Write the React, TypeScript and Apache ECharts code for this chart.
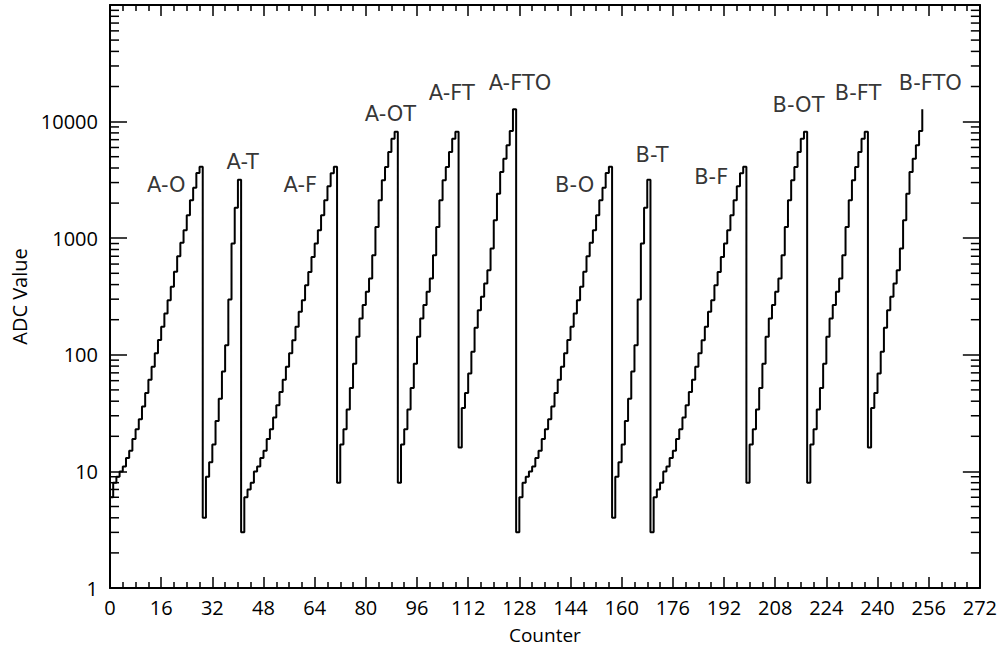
import React, { useEffect, useRef } from "react";
import * as echarts from "echarts";

// ADC readout versus counter: twelve ramps (channel A then channel B),
// each followed by a one-count drop before the next ramp starts.
const aO = [6, 8, 9, 10, 11, 13, 15, 19, 23, 28, 36, 47, 61, 79, 103, 134, 174, 226, 294, 383, 515, 701, 912, 1170, 1573, 2112, 2710, 3620, 4095];
const aODrop = [4];
const aT = [9, 12, 17, 27, 42, 72, 121, 298, 899, 1828, 3177];
const aTDrop = [3];
const aF = [6, 7, 8, 10, 11, 13, 15, 19, 23, 29, 37, 48, 61, 79, 103, 133, 174, 234, 294, 395, 514, 691, 899, 1170, 1573, 2115, 2787, 3600, 4095];
const aFDrop = [8];
const aOT = [17, 23, 34, 52, 84, 143, 205, 267, 347, 451, 714, 1250, 2115, 3140, 4085, 5490, 7140, 8191];
const aOTDrop = [8];
const aFT = [17, 23, 34, 52, 84, 143, 205, 267, 347, 451, 714, 1250, 2115, 3140, 4085, 5490, 7140, 8191];
const aFTDrop = [16];
const aFTO = [35, 47, 69, 106, 171, 241, 314, 408, 531, 814, 1425, 2410, 3700, 4810, 6260, 8300, 12740];
const aFTODrop = [3];

const bO = [6, 8, 9, 10, 11, 13, 15, 19, 23, 28, 36, 47, 61, 79, 103, 134, 174, 226, 294, 383, 515, 701, 912, 1170, 1573, 2112, 2710, 3620, 4095];
const bODrop = [4];
const bT = [9, 12, 17, 27, 42, 72, 121, 298, 899, 1828, 3177];
const bTDrop = [3];
const bF = [6, 7, 8, 10, 11, 13, 15, 19, 23, 29, 37, 48, 61, 79, 103, 133, 174, 234, 294, 395, 514, 691, 899, 1170, 1573, 2115, 2787, 3600, 4095];
const bFDrop = [8];
const bOT = [17, 23, 34, 52, 84, 143, 205, 267, 347, 451, 714, 1250, 2115, 3140, 4085, 5490, 7140, 8191];
const bOTDrop = [8];
const bFT = [17, 23, 34, 52, 84, 143, 205, 267, 347, 451, 714, 1250, 2115, 3140, 4085, 5490, 7140, 8191];
const bFTDrop = [16];
const bFTO = [35, 47, 69, 106, 171, 241, 314, 408, 531, 814, 1425, 2410, 3700, 4810, 6260, 8300, 12740];

// Ramp names and where their captions sit (counter, ADC value)
const rampNames = ["A-O", "A-T", "A-F", "A-OT", "A-FT", "A-FTO", "B-O", "B-T", "B-F", "B-OT", "B-FT", "B-FTO"];
const captionCounter = [17.6, 41.5, 59.5, 87.7, 106.9, 128.2, 145.3, 169.5, 188, 215.3, 233.9, 256.5];
const captionValue = [2840, 4470, 2840, 11540, 17470, 21270, 2840, 5130, 3330, 13770, 17470, 21270];

// Axis ticks
const xMin = 0;
const xMax = 272;
const xStep = 16;
const yMin = 1;
const yMax = 100000;
const yMinorTicks: number[] = [];
for (let e = 0; e < 5; e++) {
  for (let m = 2; m <= 9; m++) yMinorTicks.push(m * Math.pow(10, e));
}

const FONT = "Open Sans";
const CAPTION_FONT = "DejaVu Sans";

export default function App() {
  const ref = useRef<HTMLDivElement>(null);

  useEffect(() => {
    if (!ref.current) return;
    const chart = echarts.init(ref.current, undefined, { renderer: "svg" });

    const ordered = [
      aO, aODrop, aT, aTDrop, aF, aFDrop, aOT, aOTDrop, aFT, aFTDrop, aFTO, aFTODrop,
      bO, bODrop, bT, bTDrop, bF, bFDrop, bOT, bOTDrop, bFT, bFTDrop, bFTO,
    ];
    const values = ([] as number[]).concat(...ordered);
    const lineData = values.map((v, i) => [i, v]);

    const captions = rampNames.map((n, i) => [captionCounter[i], captionValue[i], n]);

    const axisLine = { show: true, onZero: false, lineStyle: { color: "#000", width: 2 } };
    const tickText = { color: "#000", fontFamily: FONT, fontSize: 20 };

    const xCommon = {
      type: "value",
      min: xMin,
      max: xMax,
      interval: xStep,
      axisLine,
      axisTick: { show: true, inside: true, length: 11, lineStyle: { color: "#000", width: 1.5 } },
      minorTick: { show: true, splitNumber: 4, length: 6, lineStyle: { color: "#000", width: 1.5 } },
      splitLine: { show: false },
    };
    const yCommon = {
      type: "log",
      logBase: 10,
      min: yMin,
      max: yMax,
      splitNumber: 5,
      axisLine,
      axisTick: { show: true, inside: true, length: 17, lineStyle: { color: "#000", width: 1.5 } },
      splitLine: { show: false },
    };

    chart.setOption({
      animation: false,
      backgroundColor: "#fff",
      grid: { left: 110, right: 12, top: 5, bottom: 64, containLabel: false },
      xAxis: [
        {
          ...xCommon,
          position: "bottom",
          axisLabel: { ...tickText, margin: 9 },
          name: "Counter",
          nameLocation: "middle",
          nameGap: 37,
          nameTextStyle: { color: "#000", fontFamily: FONT, fontSize: 19 },
        },
        { ...xCommon, position: "top", axisLabel: { show: false } },
      ],
      yAxis: [
        {
          ...yCommon,
          position: "left",
          axisLabel: {
            ...tickText,
            margin: 12,
            formatter: (v: number) => (v >= yMax ? "" : String(Math.round(v))),
          },
          name: "ADC Value",
          nameLocation: "middle",
          nameGap: 70,
          nameTextStyle: { color: "#000", fontFamily: FONT, fontSize: 20 },
        },
        { ...yCommon, position: "right", axisLabel: { show: false } },
      ],
      series: [
        {
          type: "custom",
          xAxisIndex: 0,
          yAxisIndex: 0,
          silent: true,
          clip: false,
          data: yMinorTicks.map((v) => [0, v]),
          renderItem: (_params: any, api: any) => {
            const v = api.value(1);
            const l = api.coord([xMin, v]);
            const r = api.coord([xMax, v]);
            const st = { stroke: "#000", lineWidth: 1.5 };
            return {
              type: "group",
              children: [
                { type: "line", shape: { x1: l[0], y1: l[1], x2: l[0] + 9, y2: l[1] }, style: st },
                { type: "line", shape: { x1: r[0] - 9, y1: r[1], x2: r[0], y2: r[1] }, style: st },
              ],
            };
          },
        },
        {
          type: "line",
          step: "end",
          data: lineData,
          showSymbol: false,
          symbol: "none",
          lineStyle: { color: "#000", width: 2 },
          z: 5,
        },
        {
          type: "scatter",
          data: captions,
          symbolSize: 0,
          silent: true,
          label: {
            show: true,
            position: "inside",
            formatter: (p: any) => p.data[2],
            color: "#000",
            fontFamily: CAPTION_FONT,
            fontSize: 21,
          },
          z: 6,
        },
      ],
    });

    return () => chart.dispose();
  }, []);

  return (
    <div
      ref={ref}
      style={{ position: "fixed", left: 0, top: 0, width: 1000, height: 652, background: "#fff" }}
    />
  );
}
